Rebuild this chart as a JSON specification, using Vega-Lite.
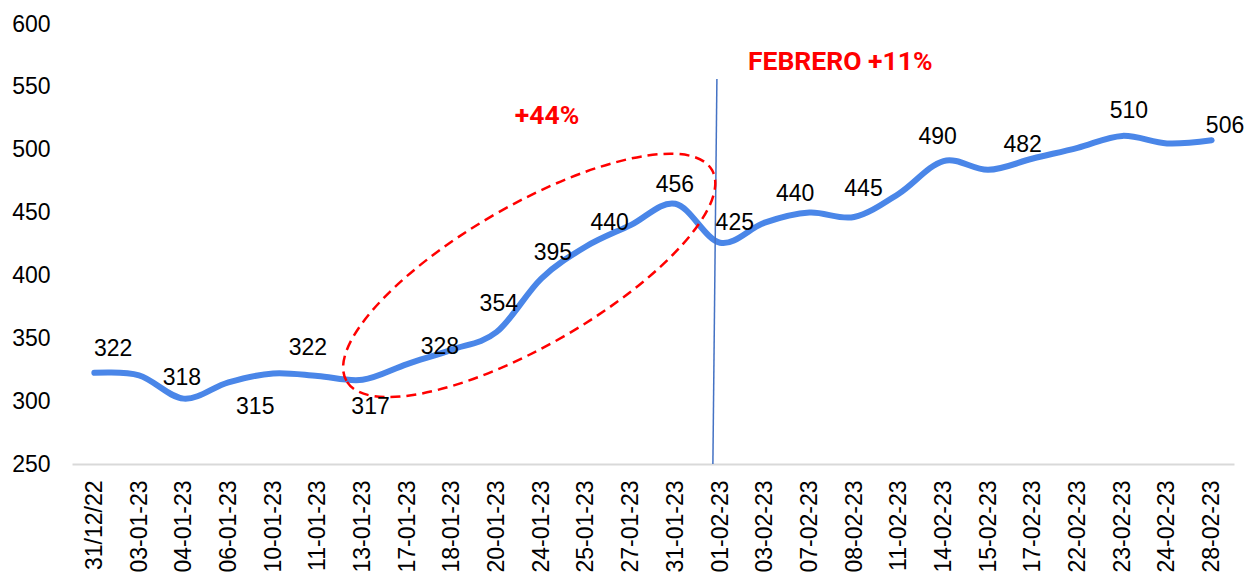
{
  "$schema": "https://vega.github.io/schema/vega-lite/v6.json",
  "width": 1162,
  "height": 440,
  "autosize": {"type": "none"},
  "padding": {"left": 72, "top": 24, "right": 23, "bottom": 113},
  "background": "white",
  "config": {"view": {"stroke": null}, "font": "Liberation Sans"},
  "datasets": {
    "serie": [
      {"fecha": "31/12/22", "valor": 322.5},
      {"fecha": "03-01-23", "valor": 320.5},
      {"fecha": "04-01-23", "valor": 302},
      {"fecha": "06-01-23", "valor": 315},
      {"fecha": "10-01-23", "valor": 322},
      {"fecha": "11-01-23", "valor": 320},
      {"fecha": "13-01-23", "valor": 317},
      {"fecha": "17-01-23", "valor": 329.5},
      {"fecha": "18-01-23", "valor": 341},
      {"fecha": "20-01-23", "valor": 355},
      {"fecha": "24-01-23", "valor": 397.5},
      {"fecha": "25-01-23", "valor": 423},
      {"fecha": "27-01-23", "valor": 440},
      {"fecha": "31-01-23", "valor": 457},
      {"fecha": "01-02-23", "valor": 426},
      {"fecha": "03-02-23", "valor": 442},
      {"fecha": "07-02-23", "valor": 450},
      {"fecha": "08-02-23", "valor": 446.5},
      {"fecha": "11-02-23", "valor": 465},
      {"fecha": "14-02-23", "valor": 491},
      {"fecha": "15-02-23", "valor": 484},
      {"fecha": "17-02-23", "valor": 493},
      {"fecha": "22-02-23", "valor": 501.5},
      {"fecha": "23-02-23", "valor": 511},
      {"fecha": "24-02-23", "valor": 505},
      {"fecha": "28-02-23", "valor": 507.5}
    ],
    "etiquetas": [
      {"pos": 0.42, "valor": 341.2, "texto": "322"},
      {"pos": 1.96, "valor": 318.6, "texto": "318"},
      {"pos": 3.6, "valor": 295.6, "texto": "315"},
      {"pos": 4.78, "valor": 342.0, "texto": "322"},
      {"pos": 6.18, "valor": 295.6, "texto": "317"},
      {"pos": 7.73, "valor": 343.3, "texto": "328"},
      {"pos": 9.05, "valor": 377.0, "texto": "354"},
      {"pos": 10.26, "valor": 417.6, "texto": "395"},
      {"pos": 11.53, "valor": 441.5, "texto": "440"},
      {"pos": 12.99, "valor": 471.9, "texto": "456"},
      {"pos": 14.33, "valor": 441.5, "texto": "425"},
      {"pos": 15.68, "valor": 464.8, "texto": "440"},
      {"pos": 17.21, "valor": 468.7, "texto": "445"},
      {"pos": 18.87, "valor": 510.3, "texto": "490"},
      {"pos": 20.77, "valor": 503.7, "texto": "482"},
      {"pos": 23.15, "valor": 530.8, "texto": "510"},
      {"pos": 25.3, "valor": 518.9, "texto": "506"}
    ],
    "notas": [
      {"pos": 10.13, "valor": 526.8, "texto": "+44%"},
      {"pos": 16.69, "valor": 569.8, "texto": "FEBRERO +11%"}
    ],
    "elipse": [
      {"pos": 9.73, "valor": 400}
    ],
    "corte": [
      {"pos": 13.93, "pos2": 13.84, "valor": 556.2, "valor2": 250}
    ]
  },
  "resolve": {"scale": {"x": "independent"}},
  "layer": [
    {
      "data": {"name": "serie"},
      "mark": {"type": "line", "interpolate": "cardinal", "color": "#4a86e8", "strokeWidth": 6, "strokeCap": "round", "strokeJoin": "round"},
      "encoding": {
        "x": {
          "field": "fecha", "type": "ordinal", "sort": null,
          "scale": {"type": "point", "padding": 0.5},
          "axis": {
            "title": null, "labelAngle": -90, "labelFontSize": 23, "labelColor": "#000000",
            "labelPadding": 16, "ticks": false, "domainColor": "#d9d9d9", "domainWidth": 2,
            "grid": false, "labelFont": "Liberation Sans"
          }
        },
        "y": {
          "field": "valor", "type": "quantitative",
          "scale": {"domain": [250, 600], "nice": false, "zero": false},
          "axis": {
            "title": null, "values": [250, 300, 350, 400, 450, 500, 550, 600],
            "labelFontSize": 23, "labelColor": "#000000", "labelPadding": 22,
            "ticks": false, "domain": false, "grid": false, "labelFont": "Liberation Sans"
          }
        }
      }
    },
    {
      "data": {"name": "corte"},
      "mark": {"type": "rule", "color": "#4472c4", "strokeWidth": 1.5},
      "encoding": {
        "x": {"field": "pos", "type": "quantitative", "scale": {"domain": [-0.5, 25.5], "nice": false, "zero": false}, "axis": null},
        "x2": {"field": "pos2"},
        "y": {"field": "valor", "type": "quantitative"},
        "y2": {"field": "valor2"}
      }
    },
    {
      "data": {"name": "elipse"},
      "mark": {
        "type": "point", "filled": false, "color": "#ff0000", "strokeWidth": 2.5, "strokeDash": [10, 6],
        "opacity": 1,
        "shape": "M-1,0C-1,-0.1833,-0.5523,-0.332,0,-0.332C0.5523,-0.332,1,-0.1833,1,0C1,0.1833,0.5523,0.332,0,0.332C-0.5523,0.332,-1,0.1833,-1,0Z",
        "size": 178084, "angle": -30
      },
      "encoding": {
        "x": {"field": "pos", "type": "quantitative", "scale": {"domain": [-0.5, 25.5], "nice": false, "zero": false}, "axis": null},
        "y": {"field": "valor", "type": "quantitative"}
      }
    },
    {
      "data": {"name": "etiquetas"},
      "mark": {"type": "text", "fontSize": 23, "font": "Liberation Sans", "color": "#000000", "align": "center", "baseline": "middle"},
      "encoding": {
        "x": {"field": "pos", "type": "quantitative", "scale": {"domain": [-0.5, 25.5], "nice": false, "zero": false}, "axis": null},
        "y": {"field": "valor", "type": "quantitative"},
        "text": {"field": "texto"}
      }
    },
    {
      "data": {"name": "notas"},
      "mark": {"type": "text", "fontSize": 26.5, "font": "Roboto", "fontWeight": "bold", "color": "#ff0000", "align": "center", "baseline": "middle"},
      "encoding": {
        "x": {"field": "pos", "type": "quantitative", "scale": {"domain": [-0.5, 25.5], "nice": false, "zero": false}, "axis": null},
        "y": {"field": "valor", "type": "quantitative"},
        "text": {"field": "texto"}
      }
    }
  ]
}
